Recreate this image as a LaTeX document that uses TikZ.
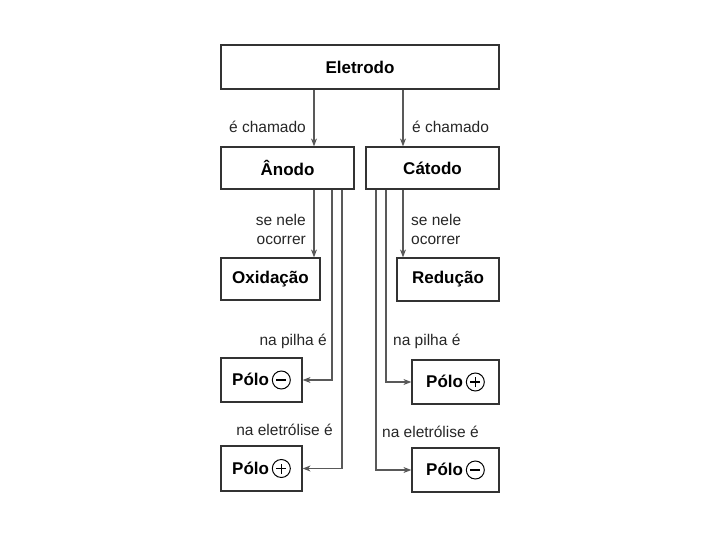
\documentclass[tikz,border=0pt]{standalone}
\usepackage{fontspec}
\setmainfont{Liberation Sans}
\usetikzlibrary{arrows.meta}

\tikzset{
    sinalbase/.style={circle, draw, line width=1pt, inner sep=0pt, minimum size=18pt}
}
\newcommand{\menosc}{\tikz[baseline=-0.65ex]\node[sinalbase, path picture={
    \draw[line width=1.6pt, shift={(path picture bounding box.center)}] (-5pt,0) -- (5pt,0);}] {};}
\newcommand{\maisc}{\tikz[baseline=-0.65ex]\node[sinalbase, path picture={
    \draw[line width=1.6pt, shift={(path picture bounding box.center)}] (-5pt,0) -- (5pt,0) (0,-5pt) -- (0,5pt);}] {};}

\begin{document}
\begin{tikzpicture}[
        x=1pt, y=-1pt,
        caixa/.style={rectangle, draw=black!80, line width=1.2pt, inner sep=0pt, font=\bfseries\fontsize{17}{18}\selectfont},
        rotulo/.style={font=\fontsize{15.5}{19}\selectfont, text=black!85, inner sep=0pt},
        seta/.style={draw=black!65, line width=1.1pt, -{Stealth[length=8pt, width=6pt]}}
    ]

        \useasboundingbox (0,0) rectangle (720,540);

        % caixas
        \node[caixa, minimum width=278pt, minimum height=44pt] (eletrodo) at (360,67)   {Eletrodo};
        \node[caixa, minimum width=133pt, minimum height=42pt] (anodo)    at (287.5,168) {Ânodo};
        \node[caixa, minimum width=133pt, minimum height=42pt] (catodo)   at (432.5,168) {Cátodo};
        \node[caixa, minimum width=99pt,  minimum height=42pt] (oxidacao) at (270.5,279) {Oxidação};
        \node[caixa, minimum width=102pt, minimum height=43pt] (reducao)  at (448,279.5) {Redução};
        \node[caixa, minimum width=81pt,  minimum height=44pt] (pmenosA)  at (261.5,380) {Pólo\,\menosc};
        \node[caixa, minimum width=81pt,  minimum height=45pt] (pmaisA)   at (261.5,468.5) {Pólo\,\maisc};
        \node[caixa, minimum width=87pt,  minimum height=44pt] (pmaisC)   at (455.5,382) {Pólo\,\maisc};
        \node[caixa, minimum width=87pt,  minimum height=44pt] (pmenosC)  at (455.5,470) {Pólo\,\menosc};

        % colunas das setas
        \coordinate (colA) at (314,0);
        \coordinate (colB) at (332,0);
        \coordinate (colC) at (342,0);
        \coordinate (colD) at (403,0);
        \coordinate (colE) at (376,0);
        \coordinate (colF) at (386,0);

        % ligacoes
        \draw[seta] (eletrodo.south -| colA) -- (anodo.north -| colA);
        \draw[seta] (eletrodo.south -| colD) -- (catodo.north -| colD);
        \draw[seta] (anodo.south -| colA) -- (oxidacao.north -| colA);
        \draw[seta] (catodo.south -| colD) -- (reducao.north -| colD);
        \draw[seta] (anodo.south -| colB) |- (pmenosA.east);
        \draw[seta] (anodo.south -| colC) |- (pmaisA.east);
        \draw[seta] (catodo.south -| colF) |- (pmaisC.west);
        \draw[seta] (catodo.south -| colE) |- (pmenosC.west);

        % rotulos
        \node[rotulo, anchor=east] (chamA) at (306,127) {é chamado};
        \node[rotulo, anchor=west] (chamC) at (412,127) {é chamado};
        \node[rotulo, anchor=east, align=right] (ocorA) at (306,229) {se nele\\ocorrer};
        \node[rotulo, anchor=west, align=left]  (ocorC) at (411,229) {se nele\\ocorrer};
        \node[rotulo, anchor=east] (pilhaA) at (327,341) {na pilha é};
        \node[rotulo, anchor=west] (pilhaC) at (393,341) {na pilha é};
        \node[rotulo, anchor=east] (eletA)  at (333,430) {na eletrólise é};
        \node[rotulo, anchor=west] (eletC)  at (382,432) {na eletrólise é};

    \end{tikzpicture}
\end{document}
